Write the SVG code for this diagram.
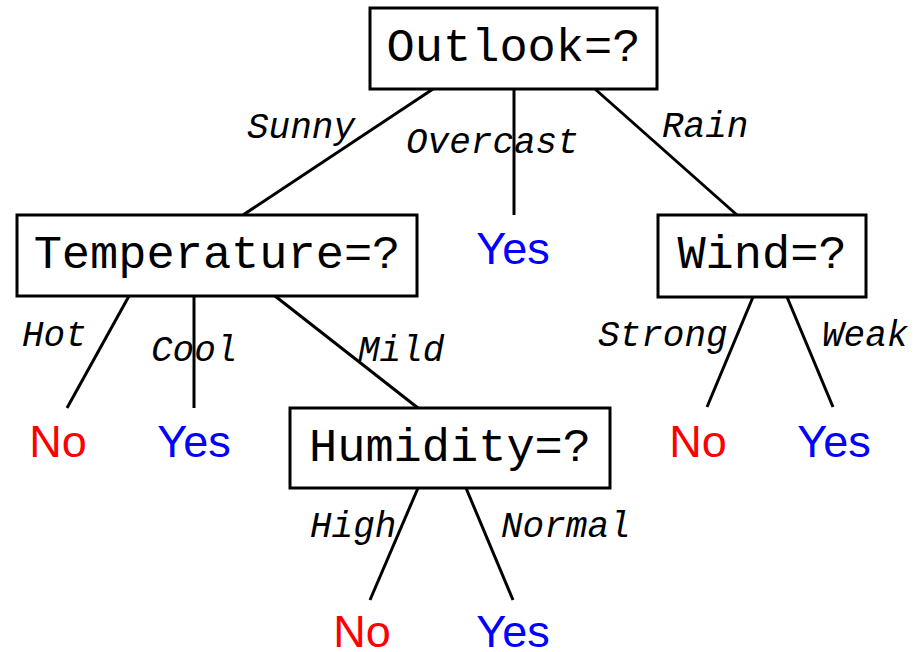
<svg xmlns="http://www.w3.org/2000/svg" width="922" height="652" viewBox="0 0 922 652">
  <style>
    .box { fill: #ffffff; stroke: #000000; stroke-width: 3; }
    .edge { stroke: #000000; stroke-width: 3; fill: none; }
    .q { font-family: "Liberation Mono", "Courier New", monospace; font-size: 47px; fill: #000000; text-anchor: middle; }
    .lbl { font-family: "Liberation Mono", "Courier New", monospace; font-size: 36px; font-style: italic; fill: #000000; }
    .leaf { font-family: "Liberation Sans", Arial, sans-serif; font-size: 45px; text-anchor: middle; }
    .yes { fill: #0000ff; }
    .no { fill: #ff0000; }
  </style>
  <rect width="922" height="652" fill="#ffffff"/>

  <!-- branches -->
  <g id="connectors">
    <line class="edge" x1="433" y1="89" x2="243" y2="215"/>
    <line class="edge" x1="514" y1="89" x2="514" y2="215"/>
    <line class="edge" x1="595" y1="89" x2="737" y2="215"/>
    <line class="edge" x1="129" y1="296" x2="67" y2="408"/>
    <line class="edge" x1="194" y1="296" x2="194" y2="408"/>
    <line class="edge" x1="275" y1="296" x2="418" y2="408"/>
    <line class="edge" x1="418" y1="488" x2="370" y2="600"/>
    <line class="edge" x1="466" y1="488" x2="513" y2="600"/>
    <line class="edge" x1="753" y1="297" x2="707" y2="407"/>
    <line class="edge" x1="787" y1="297" x2="833" y2="407"/>
  </g>

  <!-- branch labels -->
  <g id="edge-labels">
    <text class="lbl" x="247" y="138">Sunny</text>
    <text class="lbl" x="406" y="153">Overcast</text>
    <text class="lbl" x="662" y="137">Rain</text>
    <text class="lbl" x="22" y="346">Hot</text>
    <text class="lbl" x="151" y="361">Cool</text>
    <text class="lbl" x="358" y="361">Mild</text>
    <text class="lbl" x="598" y="346">Strong</text>
    <text class="lbl" x="822" y="346">Weak</text>
    <text class="lbl" x="310" y="537">High</text>
    <text class="lbl" x="501" y="537">Normal</text>
  </g>

  <!-- decision nodes -->
  <g id="outlook">
    <rect class="box" x="370" y="8" width="287" height="81"/>
    <text class="q" x="513.5" y="61">Outlook=?</text>
  </g>
  <g id="temperature">
    <rect class="box" x="17" y="215" width="400" height="81"/>
    <text class="q" x="217" y="268">Temperature=?</text>
  </g>
  <g id="wind">
    <rect class="box" x="658" y="215" width="208" height="82"/>
    <text class="q" x="762" y="268">Wind=?</text>
  </g>
  <g id="humidity">
    <rect class="box" x="290" y="408" width="320" height="80"/>
    <text class="q" x="450" y="461">Humidity=?</text>
  </g>

  <!-- leaves -->
  <g id="leaf-overcast"><text class="leaf yes" x="513" y="264">Yes</text></g>
  <g id="leaf-hot"><text class="leaf no" x="58" y="457">No</text></g>
  <g id="leaf-cool"><text class="leaf yes" x="194" y="457">Yes</text></g>
  <g id="leaf-strong"><text class="leaf no" x="698" y="457">No</text></g>
  <g id="leaf-weak"><text class="leaf yes" x="834" y="457">Yes</text></g>
  <g id="leaf-high"><text class="leaf no" x="362" y="647">No</text></g>
  <g id="leaf-normal"><text class="leaf yes" x="513" y="647">Yes</text></g>
</svg>
